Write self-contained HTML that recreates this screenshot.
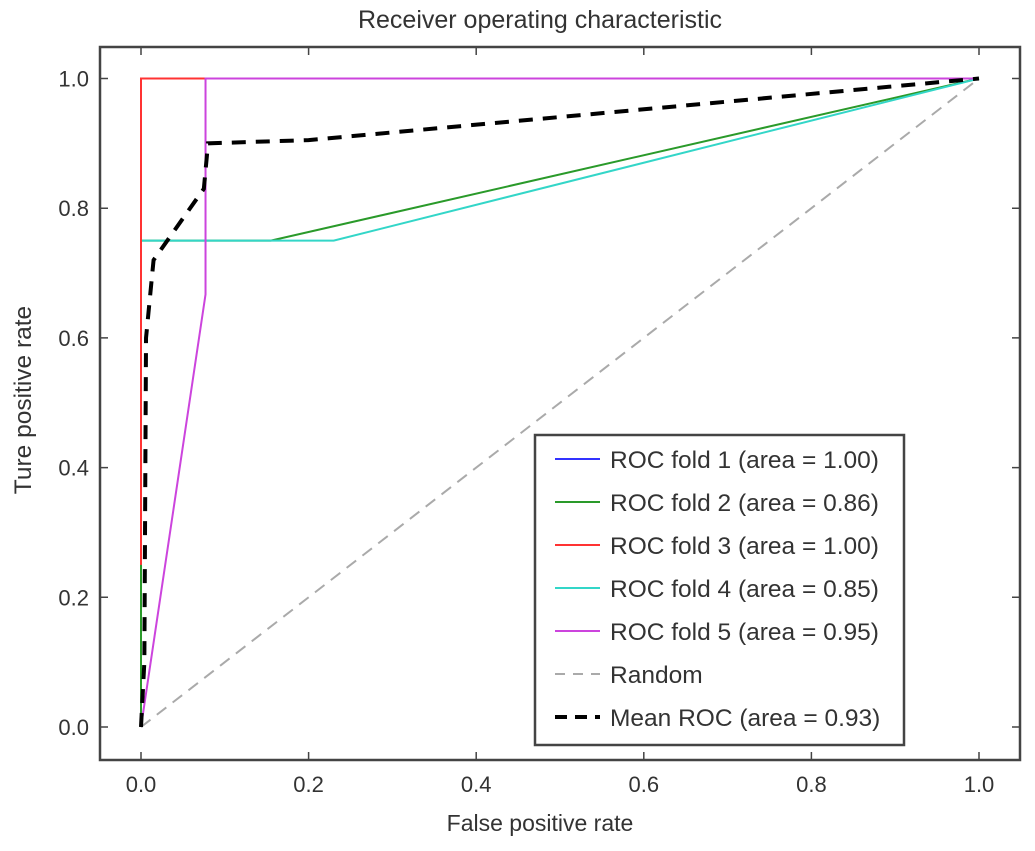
<!DOCTYPE html>
<html><head><meta charset="utf-8"><style>
body{margin:0;background:#fff;}
svg text{font-family:"Liberation Sans",Arial,sans-serif;fill:#333;}
</style></head><body>
<svg id="chart" width="1035" height="846" viewBox="0 0 1035 846" xmlns="http://www.w3.org/2000/svg">
<text x="540" y="28" font-size="25" text-anchor="middle">Receiver operating characteristic</text>
<g id="series"></g>
<rect x="100" y="47" width="920" height="713" fill="none" stroke="#444" stroke-width="2.5"/>
<g id="ticks"></g>
<text x="540" y="831" font-size="23" text-anchor="middle">False positive rate</text>
<text transform="translate(31,400) rotate(-90)" font-size="24.5" text-anchor="middle">Ture positive rate</text>
<g id="legend"></g>
</svg>
<script>
const xTicks=[0,0.2,0.4,0.6,0.8,1.0];
const yTicks=[0,0.2,0.4,0.6,0.8,1.0];
const fold1X=[0,0,1], fold1Y=[0,1,1];
const fold2X=[0,0,0.155,1], fold2Y=[0,0.75,0.75,1];
const fold3X=[0,0,0.077,1], fold3Y=[0.25,1,1,1];
const fold4X=[0,0,0.23,1], fold4Y=[0.5,0.75,0.75,1];
const fold5X=[0,0.077,0.077,1], fold5Y=[0,0.667,1,1];
const randX=[0,1], randY=[0,1];
const meanX=[0,0.004,0.006,0.015,0.075,0.08,0.2,1], meanY=[0,0.1,0.6,0.72,0.83,0.9,0.905,1];
const legendLabels=["ROC fold 1 (area = 1.00)","ROC fold 2 (area = 0.86)","ROC fold 3 (area = 1.00)","ROC fold 4 (area = 0.85)","ROC fold 5 (area = 0.95)","Random","Mean ROC (area = 0.93)"];
const NS="http://www.w3.org/2000/svg";
const sx=v=>141+v*838, sy=v=>727-v*648.5;
function mk(tag,attrs,parent){const e=document.createElementNS(NS,tag);for(const k in attrs)e.setAttribute(k,attrs[k]);parent.appendChild(e);return e;}
const ticks=document.getElementById('ticks');
xTicks.forEach(t=>{
 const x=sx(t);
 let l=mk('path',{d:`M${x},760V752M${x},47V55`,stroke:'#444','stroke-width':1.5},ticks);
 
 
 let tx=mk('text',{x:x,y:792,'font-size':22,'text-anchor':'middle'},ticks);tx.textContent=t.toFixed(1);
 
 
});
yTicks.forEach(t=>{
 const y=sy(t);
 let l=mk('path',{d:`M100,${y}H108M1020,${y}H1012`,stroke:'#444','stroke-width':1.5},ticks);
 
 
 let tx=mk('text',{x:89,y:y+8,'font-size':22,'text-anchor':'end'},ticks);tx.textContent=t.toFixed(1);
 
 
});
const series=document.getElementById('series');
const specs=[
 [fold1X,fold1Y,'#3333ff',2,null,'fold-1-line'],
 [fold2X,fold2Y,'#2a9a2a',2,null,'fold-2-line'],
 [fold4X,fold4Y,'#33d6c8',2,null,'fold-4-line'],
 [fold3X,fold3Y,'#ff3333',2,null,'fold-3-line'],
 [fold5X,fold5Y,'#cc44dd',2,null,'fold-5-line'],
 [randX,randY,'#aaaaaa',2,'12,8','random-line'],
 [meanX,meanY,'#000',4,'14,10','mean-roc-line']];
specs.forEach(s=>{
 const pts=s[0].map((x,i)=>sx(x)+','+sy(s[1][i])).join(' ');
 const a={points:pts,fill:'none',stroke:s[2],'stroke-width':s[3]};
 if(s[4])a['stroke-dasharray']=s[4];
 const p=mk('polyline',a,series);
 
 
});
const lg=document.getElementById('legend');
const box=mk('rect',{x:535,y:435,width:369,height:310,fill:'#fff',stroke:'#444','stroke-width':2.5},lg);


const lc=['#3333ff','#2a9a2a','#ff3333','#33d6c8','#cc44dd','#aaaaaa','#000'];
legendLabels.forEach((lab,i)=>{
 const y=459+i*43;
 const a={x1:555,x2:600,y1:y,y2:y,stroke:lc[i],'stroke-width':i==6?4:2};
 if(i==5)a['stroke-dasharray']='10,8';
 if(i==6)a['stroke-dasharray']='12,8';
 const l=mk('line',a,lg);
 
 
 const t=mk('text',{x:610,y:y+9,'font-size':24.5},lg);t.textContent=lab;
 
 
});
</script>
</body></html>
